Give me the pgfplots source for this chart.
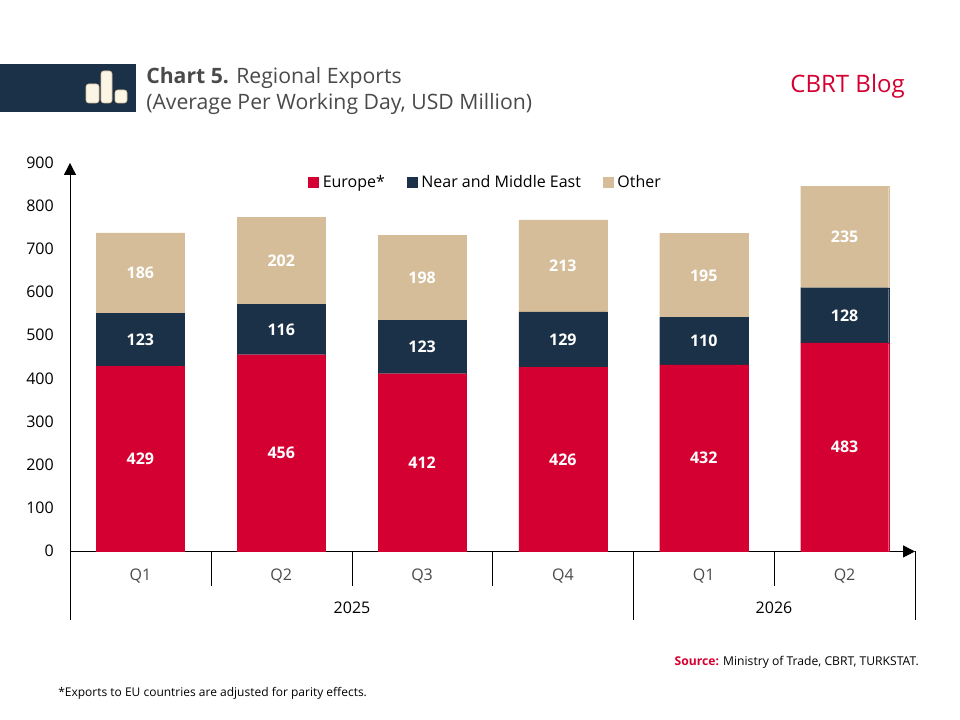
\documentclass[border=0pt]{standalone}
\usepackage{fontspec}
\setmainfont{Open Sans}
\usepackage{pgfplots}
\usepackage{pgfplotstable}
\pgfplotsset{compat=1.18}
\usetikzlibrary{arrows.meta}
\definecolor{cbred}{HTML}{D50032}
\definecolor{cbnavy}{HTML}{1B3147}
\definecolor{cbtan}{HTML}{D4BD98}
\definecolor{cbgray}{HTML}{4A4A4A}
\definecolor{cbcream}{HTML}{FBF5E6}

\pgfplotstableread{
x v
0 429
1 456
2 412
3 426
4 432
5 483
}\europe
\pgfplotstableread{
x v
0 123
1 116
2 123
3 129
4 110
5 128
}\neareast
\pgfplotstableread{
x v
0 186
1 202
2 198
3 213
4 195
5 235
}\other

% 1px of the reference = 0.75pt, origin bottom left of the page
\tikzset{px/.style={x=0.75pt,y=-0.75pt,yshift=540pt}}

\begin{document}
\begin{tikzpicture}[x=1pt,y=1pt]
\path[fill=white] (0,0) rectangle (720,540);

\begin{axis}[
  at={(52.5pt,126.4pt)}, anchor=south west,
  scale only axis,
  width=633.75pt, height=291.4pt,
  ybar stacked,
  bar width=0.625,
  xmin=-0.5, xmax=5.5,
  ymin=0, ymax=900,
  ytick={0,100,...,900},
  xtick={0,...,5},
  xticklabels={Q1,Q2,Q3,Q4,Q1,Q2},
  axis lines=left,
  axis line style={-{Triangle[length=9pt,width=9pt]},black,line width=0.75pt},
  tick style={draw=none},
  tick label style={font=\fontsize{12}{14}\selectfont},
  yticklabel style={text=black,xshift=-6.5pt,yshift=0.25pt},
  xticklabel style={text=cbgray,yshift=-7.5pt},
  /pgf/number format/assume math mode=true,
  clip=false,
  legend columns=-1,
  legend style={at={(0.492,0.95)},anchor=center,draw=none,fill=none,
    font=\fontsize{12}{14}\selectfont,text=black,
    /tikz/every even column/.append style={column sep=14.2pt},
    /tikz/every odd column/.append style={column sep=1.5pt}},
  legend image code/.code={\fill[#1] (0pt,-3.75pt) rectangle (7.5pt,3.75pt);},
  visualization depends on=\thisrow{v} \as \v,
  nodes near coords={\pgfmathprintnumber{\v}},
  nodes near coords style={anchor=center,text=white,
    font=\fontsize{12}{14}\selectfont\bfseries},
]
\addplot[fill=cbred,draw=cbred,line width=0.1pt] table[x=x,y=v] {\europe};
\addplot[fill=cbnavy,draw=cbnavy,line width=0.1pt] table[x=x,y=v] {\neareast};
\addplot[fill=cbtan,draw=cbtan,line width=0.1pt] table[x=x,y=v] {\other};
\legend{Europe*,Near and Middle East,Other}
\end{axis}

\begin{scope}[px]
  % group separators under the category axis
  \foreach \sx/\sy in {70/620,211/586,352/586,492/586,633/620,774/586,915/620}
    \draw[black,line width=0.75pt] (\sx,551) -- (\sx,\sy);
  \node[text=black,font=\fontsize{12}{14}\selectfont] at (352,608) {2025};
  \node[text=black,font=\fontsize{12}{14}\selectfont] at (774,608) {2026};

  % banner
  \fill[cbnavy] (0,64) rectangle (136,112);
  \filldraw[fill=cbcream,draw=cbtan,line width=0.4pt,rounded corners=2pt] (86,84) rectangle (99,103);
  \filldraw[fill=cbcream,draw=cbtan,line width=0.4pt,rounded corners=2pt] (101,71) rectangle (112,103);
  \filldraw[fill=cbcream,draw=cbtan,line width=0.4pt,rounded corners=2pt] (115,90) rectangle (127,103);

  \node[anchor=west,text=cbgray,font=\fontsize{15.9}{19}\selectfont,inner sep=0pt] at (146,78)
    {\textbf{Chart 5.} Regional Exports};
  \node[anchor=west,text=cbgray,font=\fontsize{15.9}{19}\selectfont,inner sep=0pt] at (146,104)
    {(Average Per Working Day, USD Million)};
  \node[anchor=east,text=cbred,font=\fontsize{18}{22}\selectfont,inner sep=0pt] at (905,86) {CBRT Blog};

  \node[anchor=east,text=black,font=\fontsize{9.1}{11}\selectfont,inner sep=0pt] at (919,662)
    {\textcolor{cbred}{\textbf{Source:}} Ministry of Trade, CBRT, TURKSTAT.};
  \node[anchor=west,text=black,font=\fontsize{9}{11}\selectfont,inner sep=0pt] at (58,693)
    {*Exports to EU countries are adjusted for parity effects.};
\end{scope}
\end{tikzpicture}
\end{document}
